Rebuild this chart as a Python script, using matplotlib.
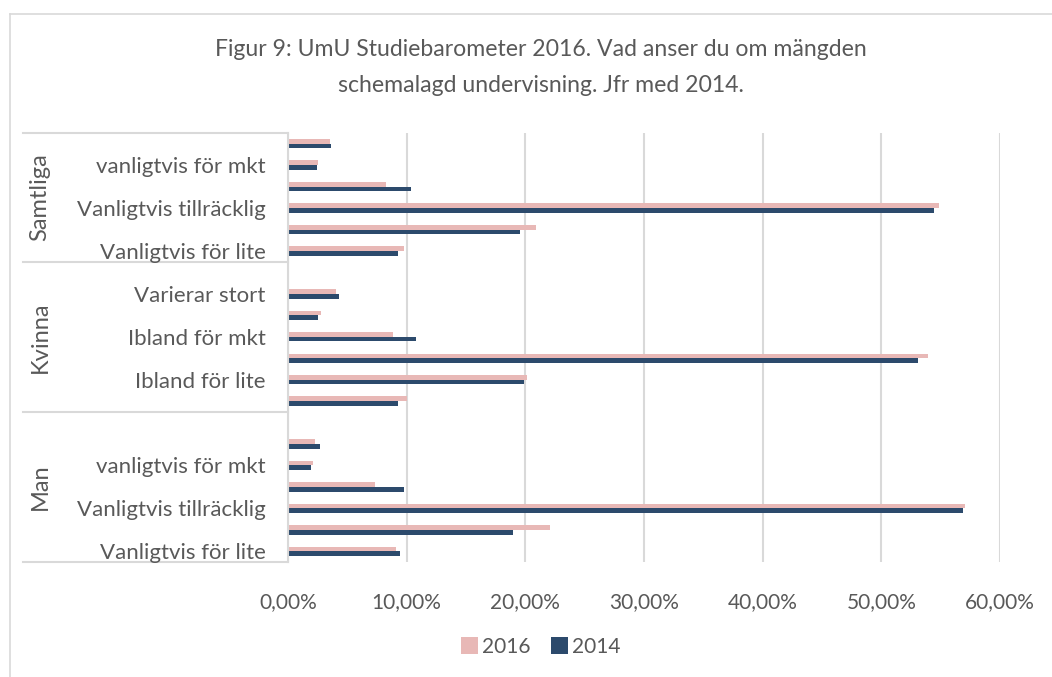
import matplotlib.pyplot as plt
import numpy as np
from matplotlib.ticker import FuncFormatter

# answer categories, bottom to top inside each group
categories = ["Vanligtvis för lite", "Ibland för lite", "Vanligtvis tillräcklig",
              "Ibland för mkt", "vanligtvis för mkt", "Varierar stort"]
groups = ["Man", "Kvinna", "Samtliga"]
# Man and Kvinna have an extra empty category on top
group_sizes = [7, 7, 6]

man_2016 = [9.08, 22.07, 57.03, 7.31, 2.14, 2.25]
man_2014 = [9.48, 18.97, 56.89, 9.78, 1.97, 2.67]
kvinna_2016 = [10.07, 20.18, 53.91, 8.89, 2.76, 4.08]
kvinna_2014 = [9.27, 19.90, 53.09, 10.77, 2.56, 4.27]
samtliga_2016 = [9.75, 20.88, 54.89, 8.26, 2.56, 3.52]
samtliga_2014 = [9.27, 19.56, 54.47, 10.37, 2.48, 3.66]

col_2016 = "#E8B8B6"
col_2014 = "#2C4A6C"
text_col = "#595959"
grid_col = "#D9D9D9"

plt.rcParams["font.family"] = ["Lato", "DejaVu Sans"]


def pad(vals, n):
    return list(vals) + [np.nan] * (n - len(vals))


v2016 = np.array(pad(man_2016, 7) + pad(kvinna_2016, 7) + pad(samtliga_2016, 6)) / 100
v2014 = np.array(pad(man_2014, 7) + pad(kvinna_2014, 7) + pad(samtliga_2014, 6)) / 100
labels = []
for n in group_sizes:
    labels += pad(categories, n)
labels = [l if isinstance(l, str) else "" for l in labels]
# excel shows only every second label
labels = [l if i % 2 == 0 else "" for i, l in enumerate(labels)]

y = np.arange(len(v2016))

fig = plt.figure(figsize=(10.52, 6.77), dpi=100)
ax = fig.add_axes([288 / 1052, 1 - 562 / 677, 712 / 1052, 429 / 677])

h = 0.22
ax.barh(y + h / 2, v2016, height=h, color=col_2016, label="2016")
ax.barh(y - h / 2, v2014, height=h, color=col_2014, label="2014")

ax.set_xlim(0, 0.6)
ax.set_ylim(-0.5, len(y) - 0.5)
ax.set_xticks(np.arange(0, 0.61, 0.1))
ax.xaxis.set_major_formatter(FuncFormatter(lambda v, p: f"{v * 100:.2f}%".replace(".", ",")))
ax.set_yticks(y)
ax.set_yticklabels(labels)
ax.tick_params(axis="y", length=0, pad=16, labelsize=16, labelcolor=text_col)
ax.tick_params(axis="x", length=0, pad=22, labelsize=15, labelcolor=text_col)
ax.grid(axis="x", color=grid_col, linewidth=1.5)
ax.set_axisbelow(True)
for s in ["top", "right", "bottom"]:
    ax.spines[s].set_visible(False)
ax.spines["left"].set_color(grid_col)
ax.spines["left"].set_linewidth(1.5)

# group separators and group names
tr = ax.get_yaxis_transform()
x0 = (23 - 288) / 712
bounds = np.concatenate([[0], np.cumsum(group_sizes)]) - 0.5
for b in bounds:
    ax.plot([x0, 0], [b, b], transform=tr, color=grid_col, lw=1.5, clip_on=False, zorder=0.1)
for g, lo, hi in zip(groups, bounds[:-1], bounds[1:]):
    ax.text((40 - 288) / 712, (lo + hi) / 2, g, transform=tr, rotation=90,
            ha="center", va="center", fontsize=17, color=text_col)

fig.text(0.514, 1 - 50 / 677, "Figur 9: UmU Studiebarometer 2016. Vad anser du om mängden",
         ha="center", va="center", fontsize=16.6, color=text_col)
fig.text(0.514, 1 - 86 / 677, "schemalagd undervisning. Jfr med 2014.",
         ha="center", va="center", fontsize=16.6, color=text_col)

fig.legend(loc="center", bbox_to_anchor=(0.514, 1 - 647 / 677), ncol=2, frameon=False,
           fontsize=15, labelcolor=text_col, handlelength=0.8, handleheight=0.9,
           handletextpad=0.2, columnspacing=1.0)

# chart border
fig.add_artist(plt.Line2D([10 / 1052, 10 / 1052], [0, 1 - 14 / 677], color=grid_col, lw=1.2))
fig.add_artist(plt.Line2D([10 / 1052, 1], [1 - 14 / 677, 1 - 14 / 677], color=grid_col, lw=1.2))

fig.savefig("out.png", dpi=100)
